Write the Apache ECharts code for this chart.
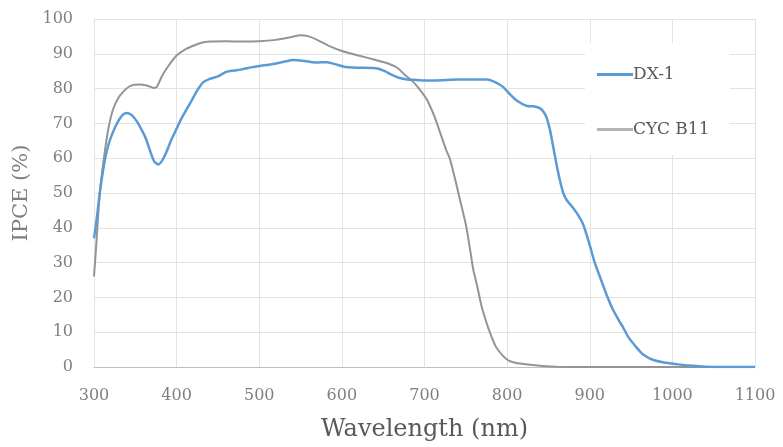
<!DOCTYPE html>
<html>
<head>
<meta charset="utf-8">
<script src="https://cdn.jsdelivr.net/npm/echarts@6/dist/echarts.min.js"></script>
<style>html,body{margin:0;padding:0;background:#fff}#c{width:783px;height:447px}</style>
</head>
<body>
<div id="c"></div>
<script>
// Wavelength (nm) / IPCE (%) pairs
const dx1Wavelength = [300,303,307,312,317,323,329,335,340,346,352,358,363,368,373,378,383,388,394,400,406,412,418,425,432,440,450,460,470,480,490,500,515,530,541,555,568,582,595,605,620,643,652,660,668,679,690,705,720,740,760,776,786,795,803,812,824,832,840,845,848,852,856,860,864,868,872,879,885,892,900,906,913,920,928,935,940,947,957,965,977,990,1006,1020,1040,1060,1100];
const dx1Ipce = [37,42,50,58,63.5,67.5,70.5,72.5,73,72.3,70.5,68,65.5,62,59,58.2,59.5,62,65.5,68.5,71.5,74,76.5,79.5,81.8,82.8,83.5,84.8,85.2,85.6,86.1,86.5,87,87.7,88.2,87.9,87.5,87.6,86.8,86.2,86,85.8,85,84,83.2,82.6,82.5,82.3,82.4,82.6,82.6,82.6,81.8,80.5,78.5,76.5,75,74.9,74.3,73,71.5,68,63,58,53.5,50,48,46,44,41,35,30,25.5,21,16.5,13.5,11.5,8.5,5.5,3.5,2,1.3,0.8,0.4,0.1,0,0];

const cycWavelength = [300,303,307,312,317,323,330,337,344,355,365,372,376,382,390,400,410,420,430,440,460,480,500,520,535,549,560,570,585,600,620,640,655,667,676,686,695,703,712,719,726,731,737,743,750,755,759,764,769,774,779,786,795,802,810,825,843,860,900,1000,1100];
const cycIpce = [26,36,50,60,68,74,77.5,79.5,80.8,81.2,80.8,80.2,80.5,83.5,86.5,89.5,91.2,92.3,93.2,93.5,93.6,93.5,93.6,94,94.6,95.3,95,94,92.2,90.8,89.5,88.3,87.3,86,84,82,79.5,76.8,72,67.3,62.5,59.6,54,48,41,34,28,23,17.5,13.5,10,6,3.2,1.8,1.2,0.7,0.3,0.1,0,0,0];

const seriesNames = ['DX-1', 'CYC B11'];
const xTicks = {min: 300, max: 1100, step: 100};
const yTicks = {min: 0, max: 100, step: 10};

const pair = (xs, ys) => xs.map((x, i) => [x, ys[i]]);
const serif = 'DejaVu Serif';
const blue = '#5b9bd5', gray = '#949494';

const chart = echarts.init(document.getElementById('c'), null, {renderer: 'canvas'});
chart.setOption({
  animation: false,
  backgroundColor: '#ffffff',
  grid: {left: 94, right: 28, top: 19, bottom: 79},
  legend: {
    data: [
      {name: seriesNames[0], icon: 'rect', itemStyle: {color: blue}},
      {name: seriesNames[1], icon: 'rect', itemStyle: {color: '#b4b4b4'}}
    ],
    orient: 'vertical',
    left: 585,
    top: 43,
    backgroundColor: '#ffffff',
    padding: [23, 20, 17, 12],
    itemGap: 38,
    itemWidth: 36,
    itemHeight: 3,
    textStyle: {fontFamily: serif, fontSize: 17, color: '#595959', padding: [0, 0, 0, -5]}
  },
  xAxis: {
    type: 'value',
    min: xTicks.min, max: xTicks.max, interval: xTicks.step,
    name: 'Wavelength (nm)',
    nameLocation: 'middle',
    nameGap: 51,
    nameTextStyle: {fontFamily: serif, fontSize: 24, color: '#595959'},
    axisLine: {show: true, lineStyle: {color: '#bfbfbf', width: 1}},
    axisTick: {show: false},
    axisLabel: {fontFamily: serif, fontSize: 16, color: '#7f7f7f', margin: 21, formatter: v => String(v)},
    splitLine: {show: true, lineStyle: {color: '#e3e3e3', width: 1}}
  },
  yAxis: {
    type: 'value',
    min: yTicks.min, max: yTicks.max, interval: yTicks.step,
    name: 'IPCE (%)',
    nameLocation: 'middle',
    nameGap: 60,
    nameTextStyle: {fontFamily: serif, fontSize: 21, color: '#7f7f7f'},
    axisLine: {show: false},
    axisTick: {show: false},
    axisLabel: {fontFamily: serif, fontSize: 16, color: '#7f7f7f', margin: 21, formatter: v => String(v)},
    splitLine: {show: true, lineStyle: {color: '#e3e3e3', width: 1}}
  },
  series: [
    {
      name: seriesNames[1],
      type: 'line',
      data: pair(cycWavelength, cycIpce),
      symbol: 'none',
      smooth: 0.2,
      lineStyle: {color: gray, width: 2},
      itemStyle: {color: gray},
      z: 2
    },
    {
      name: seriesNames[0],
      type: 'line',
      data: pair(dx1Wavelength, dx1Ipce),
      symbol: 'none',
      smooth: 0.2,
      lineStyle: {color: blue, width: 2.5},
      itemStyle: {color: blue},
      z: 3
    }
  ]
});
</script>
</body>
</html>
